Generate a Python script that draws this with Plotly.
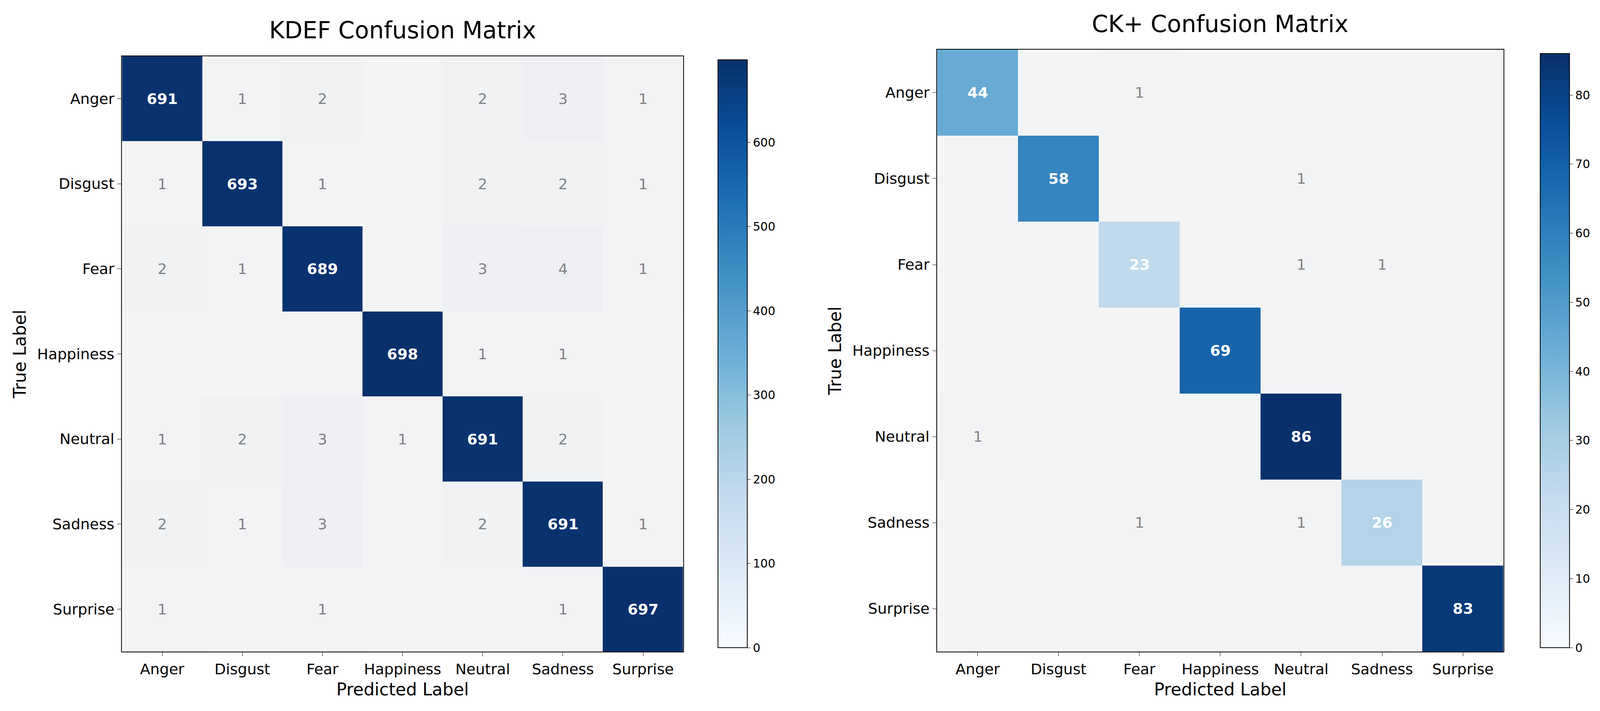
import plotly.graph_objects as go

labels = ["Anger", "Disgust", "Fear", "Happiness", "Neutral", "Sadness", "Surprise"]
kdef = [
    [691, 1, 2, 0, 2, 3, 1],
    [1, 693, 1, 0, 2, 2, 1],
    [2, 1, 689, 0, 3, 4, 1],
    [0, 0, 0, 698, 1, 1, 0],
    [1, 2, 3, 1, 691, 2, 0],
    [2, 1, 3, 0, 2, 691, 1],
    [1, 0, 1, 0, 0, 1, 697],
]
ck = [
    [44, 0, 1, 0, 0, 0, 0],
    [0, 58, 0, 0, 1, 0, 0],
    [0, 0, 23, 0, 1, 1, 0],
    [0, 0, 0, 69, 0, 0, 0],
    [1, 0, 0, 0, 86, 0, 0],
    [0, 0, 1, 0, 1, 26, 0],
    [0, 0, 0, 0, 0, 0, 83],
]
titles = ["KDEF Confusion Matrix", "CK+ Confusion Matrix"]

fig = go.Figure()
F = "DejaVu Sans"
cby = [(1 - 600 / 652, 1 - 49 / 652), (1 - 600 / 652, 1 - 43 / 652)]

def add(mat, cbx, dtick, vmax, idx):
    n = len(labels)
    diag = [[mat[i][j] if i == j else None for j in range(n)] for i in range(n)]
    dtext = [[str(mat[i][j]) if i == j else "" for j in range(n)] for i in range(n)]
    off = [[(mat[i][j] if i != j else None) for j in range(n)] for i in range(n)]
    otext = [[(str(mat[i][j]) if (i != j and mat[i][j] > 0) else "") for j in range(n)] for i in range(n)]
    sfx = "" if idx == 0 else str(idx + 1)
    fig.add_trace(go.Heatmap(z=off, x=labels, y=labels, text=otext, texttemplate="%{text}",
                             textfont=dict(size=38, color="#808080", family=F),
                             colorscale=[[0, "#f3f4f6"], [1, "#eceef2"]], zmin=0, zmax=5,
                             showscale=False, xaxis="x" + sfx, yaxis="y" + sfx, hoverongaps=False))
    fig.add_trace(go.Heatmap(z=diag, x=labels, y=labels, text=dtext, texttemplate="<b>%{text}</b>",
                             textfont=dict(size=38, color="white", family=F),
                             colorscale="Blues", zmin=0, zmax=vmax, xaxis="x" + sfx, yaxis="y" + sfx,
                             hoverongaps=False,
                             colorbar=dict(x=cbx, xanchor="left", y=cby[idx][0], yanchor="bottom",
                                           len=cby[idx][1] - cby[idx][0], lenmode="fraction",
                                           thickness=75, outlinewidth=2, outlinecolor="black",
                                           tickfont=dict(size=30, family=F, color="black"), dtick=dtick,
                                           ticks="outside", ticklen=8, tickcolor="black")))

add(kdef, 0.446, 100, 698, 0)
add(ck, 0.962, 10, 86, 1)

tf = dict(size=44, family=F, color="black")
axcommon = dict(showgrid=False, zeroline=False, showline=True, linecolor="black", linewidth=2,
                mirror=True, ticks="outside", ticklen=10, tickcolor="black",
                tickfont=dict(size=38, family=F, color="black"))
fig.update_layout(
    xaxis=dict(domain=[117 / 1568, 669 / 1568], anchor="y",
               title=dict(text="Predicted Label", font=tf), **axcommon),
    yaxis=dict(domain=cby[0], anchor="x", autorange="reversed",
               title=dict(text="True Label", font=tf), **axcommon),
    xaxis2=dict(domain=[919 / 1568, 1476 / 1568], anchor="y2",
                title=dict(text="Predicted Label", font=tf), **axcommon),
    yaxis2=dict(domain=cby[1], anchor="x2", autorange="reversed",
                title=dict(text="True Label", font=tf), **axcommon),
    paper_bgcolor="white", plot_bgcolor="white",
    margin=dict(l=0, r=0, t=0, b=0), autosize=True,
    annotations=[
        dict(text=titles[0], x=(117 + 669) / 2 / 1568, y=1 - 25 / 652, xref="paper", yref="paper",
             xanchor="center", yanchor="middle", showarrow=False, font=dict(size=60, family=F, color="black")),
        dict(text=titles[1], x=(919 + 1476) / 2 / 1568, y=1 - 19 / 652, xref="paper", yref="paper",
             xanchor="center", yanchor="middle", showarrow=False, font=dict(size=60, family=F, color="black")),
    ],
)
fig.write_html("out.html", default_width="100%", default_height="100%")
